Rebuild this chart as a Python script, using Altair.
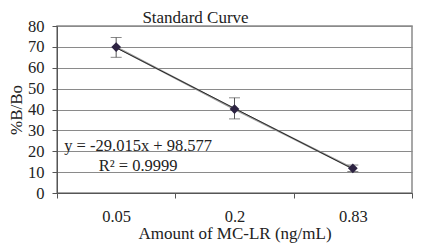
import altair as alt
import pandas as pd

categories = ["0.05", "0.2", "0.83"]
values = [69.9, 40.2, 11.8]
err_hi = [74.5, 45.6, 13.4]
err_lo = [65.0, 35.5, 10.3]
trend = [69.562, 40.547, 11.532]
y_ticks = [0, 10, 20, 30, 40, 50, 60, 70, 80]

df = pd.DataFrame({"cat": categories, "val": values, "hi": err_hi, "lo": err_lo, "trend": trend})

FONT = "Liberation Serif"
TXT = "#222222"

x_axis = alt.Axis(labelAngle=0, tickBand="extent", tickSize=5, labelPadding=10,
                  titlePadding=1, grid=False,
                  labelFont=FONT, labelFontSize=16.5, labelColor=TXT,
                  titleFont=FONT, titleFontSize=17, titleFontWeight="normal", titleColor=TXT,
                  domainColor="#555555", tickColor="#555555")
y_axis = alt.Axis(values=y_ticks, tickSize=5, labelPadding=8, titlePadding=6,
                  gridColor="#8a8a8a", gridWidth=1.2,
                  labelFont=FONT, labelFontSize=16.5, labelColor=TXT,
                  titleFont=FONT, titleFontSize=17, titleFontWeight="normal", titleColor=TXT,
                  titleBaseline="alphabetic",
                  domainColor="#555555", tickColor="#555555")
y_scale = alt.Scale(domain=[0, 80], nice=False)
x_scale = alt.Scale(paddingInner=0, paddingOuter=0)


def X():
    return alt.X("cat:N", sort=categories, title="Amount of MC-LR (ng/mL)", scale=x_scale, axis=x_axis)


def Y(field):
    return alt.Y(field, scale=y_scale, axis=y_axis, title="%B/Bo")


base = alt.Chart(df)

series_line = base.mark_line(color="#9a9a9a", strokeWidth=2).encode(x=X(), y=Y("val:Q"))
trend_line = base.mark_line(color="#2a2a2a", strokeWidth=1).encode(x=X(), y=Y("trend:Q"))
err = base.mark_rule(color="#555555", strokeWidth=1).encode(x=X(), y=Y("lo:Q"), y2="hi:Q")
cap_hi = base.mark_tick(color="#555555", orient="horizontal", size=11, thickness=1).encode(
    x=X(), y=Y("hi:Q"))
cap_lo = base.mark_tick(color="#555555", orient="horizontal", size=11, thickness=1).encode(
    x=X(), y=Y("lo:Q"))
pts = base.mark_point(shape="diamond", filled=True, color="#2d2342", size=95, opacity=1).encode(
    x=X(), y=Y("val:Q"))

ann = pd.DataFrame({"cat": ["0.05", "0.05"], "y": [22.5, 12.9],
                    "label": ["y = -29.015x + 98.577", "R² = 0.9999"]})
ann_text = alt.Chart(ann).mark_text(font=FONT, fontSize=16.5, color=TXT, align="center",
                                    baseline="middle", dx=22).encode(
    x=X(), y=Y("y:Q"), text="label:N")

title_df = pd.DataFrame({"cat": ["0.2"], "y": [80], "label": ["Standard Curve"]})
title_text = alt.Chart(title_df).mark_text(font=FONT, fontSize=17, color=TXT, align="center",
                                           baseline="middle", dx=-39, dy=-8).encode(
    x=X(), y=Y("y:Q"), text="label:N")

chart = alt.layer(series_line, trend_line, err, cap_hi, cap_lo, pts, ann_text, title_text).properties(
    width=355, height=167,
    padding={"left": 49, "top": 18, "right": 1, "bottom": 50},
    autosize=alt.AutoSizeParams(type="none"),
    background="white",
).configure_view(stroke="#8a8a8a", strokeWidth=1.5)

chart.save("out.html", embed_options={"renderer": "svg", "actions": False})
